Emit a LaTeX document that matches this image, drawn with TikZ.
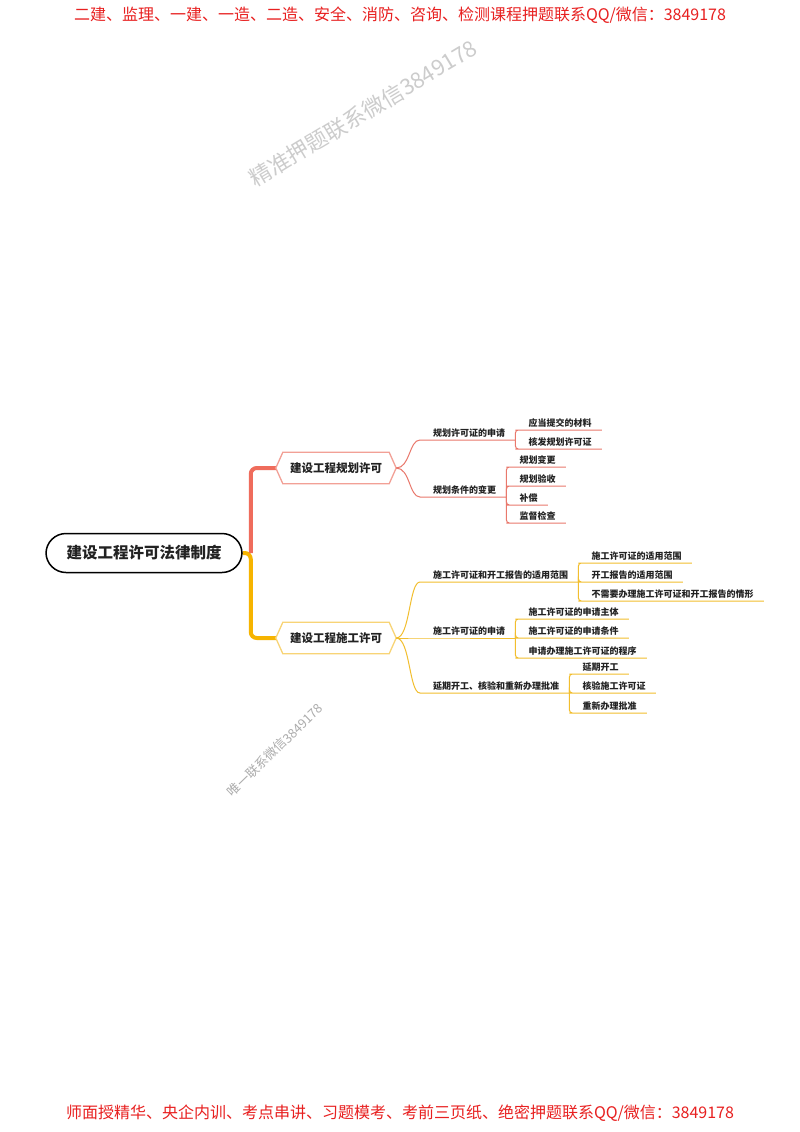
\documentclass[tikz,border=0pt]{standalone}
\usepackage{fontspec}
\newfontfamily\cjk{Noto Sans CJK SC}
\usetikzlibrary{calc}
\definecolor{hdrred}{RGB}{232,32,32}
\definecolor{trunkred}{RGB}{239,108,92}
\definecolor{hexred}{RGB}{242,160,150}
\definecolor{lnred}{RGB}{233,120,108}
\definecolor{trunkyel}{RGB}{246,180,0}
\definecolor{hexyel}{RGB}{248,212,118}
\definecolor{lnyel}{RGB}{242,190,46}
\definecolor{txt}{RGB}{34,34,34}
\begin{document}
\begin{tikzpicture}[x=1pt,y=-1pt,
  lbl/.style={anchor=south west, inner xsep=10pt, inner ysep=2pt, font=\cjk\bfseries\fontsize{9}{10}\selectfont, text=txt},
  hexbox/.style={minimum width=120pt, minimum height=31pt, inner sep=0pt, font=\cjk\bfseries\fontsize{11.5}{13}\selectfont, text=txt},
  rl/.style={draw=lnred, line width=1pt, rounded corners=3pt},
  yl/.style={draw=lnyel, line width=1pt, rounded corners=3pt},
  banner/.style={font=\cjk\fontsize{16}{16}\selectfont, text=hdrred, inner sep=0pt}
]
\useasboundingbox[fill=white] (0,0) rectangle (800,1132);

% banners and watermarks
\node[banner] (hdr) at (400,15) {二建、监理、一建、一造、二造、安全、消防、咨询、检测课程押题联系QQ/微信：3849178};
\node[banner] (ftr) at (400,1113) {师面授精华、央企内训、考点串讲、习题模考、考前三页纸、绝密押题联系QQ/微信：3849178};
\node[rotate=31, text=gray!40, font=\cjk\fontsize{22}{22}\selectfont] (wm1) at (363,113) {精准押题联系微信3849178};
\node[rotate=44, text=gray!65, font=\cjk\fontsize{12.8}{13}\selectfont] (wm2) at (275,750) {唯一联系微信3849178};

% root and main branches
\node[draw=black, line width=1.5pt, fill=white, rounded corners=20pt, minimum width=196pt, minimum height=39pt, font=\cjk\bfseries\fontsize{15.5}{17}\selectfont, text=txt] (root) at (144,553) {建设工程许可法律制度};
\node[hexbox] (h1) at (336,468) {};
\node[hexbox] (h2) at (336,638) {};

\draw[trunkyel, line width=4pt, rounded corners=6pt] (root.east) -- ++(8,0) |- (h2.west);
\draw[trunkred, line width=4pt, rounded corners=6pt] ([xshift=8pt]root.east) |- (h1.west);

\draw[draw=hexred, line width=1.3pt, fill=white] (h1.west) -- ([xshift=7pt]h1.north west) -- ([xshift=-7pt]h1.north east) -- (h1.east) -- ([xshift=-7pt]h1.south east) -- ([xshift=7pt]h1.south west) -- cycle;
\draw[draw=hexyel, line width=1.3pt, fill=white] (h2.west) -- ([xshift=7pt]h2.north west) -- ([xshift=-7pt]h2.north east) -- (h2.east) -- ([xshift=-7pt]h2.south east) -- ([xshift=7pt]h2.south west) -- cycle;
\node[hexbox] (h1t) at (h1.center) {建设工程规划许可};
\node[hexbox] (h2t) at (h2.center) {建设工程施工许可};

% red sub-branches
\node[lbl] (p1) at (423,440) {规划许可证的申请};
\node[lbl] (p2) at (423,497) {规划条件的变更};
\draw[rl] (h1.east) .. controls +(14,0) and +(-14,0) .. (p1.south west) -- (p1.south east);
\draw[rl] (h1.east) .. controls +(14,0) and +(-14,0) .. (p2.south west) -- (p2.south east);

\node[lbl] (c11) at ([xshift=3pt,yshift=10pt]p1.south east) {应当提交的材料};
\node[lbl] (c12) at ([xshift=3pt,yshift=-9pt]p1.south east) {核发规划许可证};
\foreach \c in {c11,c12} \draw[rl] (p1.south east) |- (\c.south west) -- (\c.south east);

\node[lbl] (c21) at ([xshift=3pt,yshift=30pt]p2.south east) {规划变更};
\node[lbl] (c22) at ([xshift=3pt,yshift=11pt]p2.south east) {规划验收};
\node[lbl] (c23) at ([xshift=3pt,yshift=-8pt]p2.south east) {补偿};
\node[lbl] (c24) at ([xshift=3pt,yshift=-26pt]p2.south east) {监督检查};
\foreach \c in {c21,c22,c23,c24} \draw[rl] (p2.south east) |- (\c.south west) -- (\c.south east);

% yellow sub-branches
\node[lbl] (q1) at (423,582) {施工许可证和开工报告的适用范围};
\node[lbl] (q2) at (423,638) {施工许可证的申请};
\node[lbl] (q3) at (423,693) {延期开工、核验和重新办理批准};
\draw[yl] (h2.east) .. controls +(14,0) and +(-14,0) .. (q1.south west) -- (q1.south east);
\draw[yl] (h2.east) -- (q2.south west) -- (q2.south east);
\draw[yl] (h2.east) .. controls +(14,0) and +(-14,0) .. (q3.south west) -- (q3.south east);

\node[lbl] (d11) at ([xshift=3pt,yshift=19pt]q1.south east) {施工许可证的适用范围};
\node[lbl] (d12) at ([xshift=3pt]q1.south east) {开工报告的适用范围};
\node[lbl] (d13) at ([xshift=3pt,yshift=-19pt]q1.south east) {不需要办理施工许可证和开工报告的情形};
\foreach \c in {d11,d12,d13} \draw[yl] (q1.south east) |- (\c.south west) -- (\c.south east);

\node[lbl] (d21) at ([xshift=3pt,yshift=19pt]q2.south east) {施工许可证的申请主体};
\node[lbl] (d22) at ([xshift=3pt]q2.south east) {施工许可证的申请条件};
\node[lbl] (d23) at ([xshift=3pt,yshift=-20pt]q2.south east) {申请办理施工许可证的程序};
\foreach \c in {d21,d22,d23} \draw[yl] (q2.south east) |- (\c.south west) -- (\c.south east);

\node[lbl] (d31) at ([xshift=3pt,yshift=19pt]q3.south east) {延期开工};
\node[lbl] (d32) at ([xshift=3pt]q3.south east) {核验施工许可证};
\node[lbl] (d33) at ([xshift=3pt,yshift=-20pt]q3.south east) {重新办理批准};
\foreach \c in {d31,d32,d33} \draw[yl] (q3.south east) |- (\c.south west) -- (\c.south east);
\end{tikzpicture}
\end{document}
